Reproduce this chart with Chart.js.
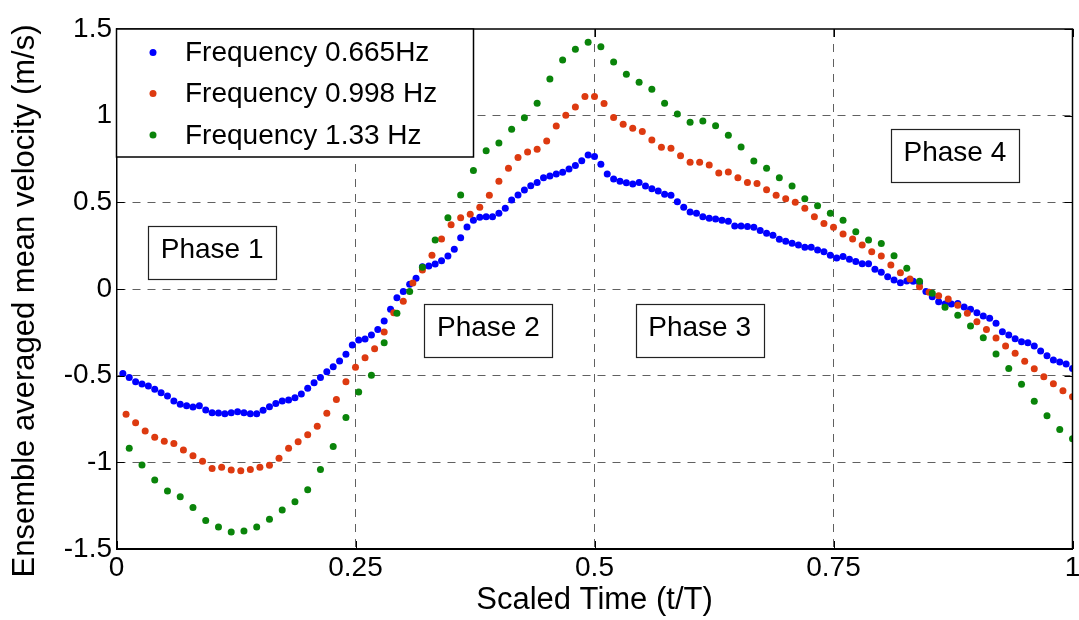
<!DOCTYPE html>
<html lang="en">
<head>
    <meta charset="UTF-8" />
    <title>Ensemble averaged mean velocity</title>
    <script src="https://cdn.jsdelivr.net/npm/chart.js@4.4.1/dist/chart.umd.min.js"></script>
    <style>
        html, body { margin: 0; padding: 0; background: #fff; }
        #wrap { width: 1079px; height: 620px; }
    </style>
</head>
<body>
    <div id="wrap"><canvas id="chart"></canvas></div>

    <script>
        // === Data (m/s), samples evenly spaced over one period ===
        const SERIES_NAMES = ["Frequency 0.665Hz", "Frequency 0.998 Hz", "Frequency 1.33 Hz"];

        const V_0665 = [
            -0.487, -0.511, -0.535, -0.548, -0.560, -0.579, -0.598, -0.617, -0.646, -0.665,
            -0.673, -0.681, -0.673, -0.698, -0.714, -0.716, -0.719, -0.714, -0.708, -0.714,
            -0.719, -0.719, -0.700, -0.679, -0.660, -0.646, -0.641, -0.627, -0.606, -0.573,
            -0.541, -0.510, -0.477, -0.448, -0.415, -0.377, -0.323, -0.294, -0.288, -0.265,
            -0.233, -0.185, -0.117, -0.050, -0.015, 0.027, 0.062, 0.129, 0.133, 0.144,
            0.163, 0.190, 0.229, 0.296, 0.358, 0.396, 0.414, 0.417, 0.417, 0.437,
            0.466, 0.514, 0.542, 0.571, 0.596, 0.615, 0.642, 0.652, 0.664, 0.673,
            0.692, 0.712, 0.740, 0.773, 0.765, 0.719, 0.663, 0.635, 0.622, 0.613,
            0.606, 0.615, 0.594, 0.579, 0.565, 0.546, 0.541, 0.504, 0.471, 0.444,
            0.437, 0.417, 0.408, 0.404, 0.396, 0.391, 0.364, 0.364, 0.360, 0.356,
            0.337, 0.321, 0.310, 0.287, 0.275, 0.264, 0.254, 0.241, 0.241, 0.225,
            0.215, 0.194, 0.179, 0.188, 0.171, 0.159, 0.145, 0.146, 0.114, 0.097,
            0.071, 0.052, 0.036, 0.046, 0.044, 0.036, -0.015, -0.044, -0.073, -0.087,
            -0.087, -0.083, -0.104, -0.117, -0.137, -0.156, -0.169, -0.198, -0.246, -0.265,
            -0.287, -0.304, -0.310, -0.329, -0.358, -0.385, -0.410, -0.421, -0.433, -0.458
        ];

        const V_0998 = [
            -0.723, -0.771, -0.819, -0.856, -0.879, -0.891, -0.929, -0.962, -0.994, -1.035,
            -1.029, -1.044, -1.048, -1.042, -1.029, -1.017, -0.977, -0.919, -0.881, -0.841,
            -0.792, -0.717, -0.637, -0.535, -0.452, -0.396, -0.344, -0.248, -0.137, -0.071,
            0.035, 0.110, 0.194, 0.289, 0.371, 0.411, 0.431, 0.471, 0.541, 0.621,
            0.696, 0.758, 0.791, 0.806, 0.854, 0.941, 1.002, 1.050, 1.110, 1.110,
            1.070, 0.990, 0.950, 0.927, 0.908, 0.860, 0.818, 0.812, 0.769, 0.731,
            0.731, 0.716, 0.669, 0.675, 0.642, 0.615, 0.608, 0.573, 0.541, 0.521,
            0.500, 0.466, 0.417, 0.378, 0.356, 0.317, 0.289, 0.254, 0.215, 0.191,
            0.138, 0.094, 0.058, 0.013, -0.019, -0.039, -0.058, -0.094, -0.140, -0.189,
            -0.233, -0.283, -0.329, -0.371, -0.417, -0.460, -0.506, -0.546, -0.587, -0.621
        ];

        const V_133 = [
            -0.919, -1.016, -1.102, -1.166, -1.198, -1.260, -1.335, -1.373, -1.402, -1.396,
            -1.373, -1.329, -1.275, -1.227, -1.158, -1.041, -0.908, -0.742, -0.594, -0.498,
            -0.310, -0.140, -0.015, 0.125, 0.283, 0.411, 0.542, 0.683, 0.798, 0.842,
            0.921, 0.988, 1.071, 1.212, 1.321, 1.383, 1.423, 1.398, 1.309, 1.239,
            1.193, 1.152, 1.071, 1.010, 0.962, 0.969, 0.942, 0.887, 0.819, 0.739,
            0.696, 0.642, 0.594, 0.521, 0.481, 0.437, 0.397, 0.330, 0.282, 0.262,
            0.192, 0.119, 0.044, -0.025, -0.106, -0.152, -0.213, -0.281, -0.375, -0.458,
            -0.550, -0.648, -0.731, -0.810, -0.864
        ];

        const X_TICKS = [0, 0.25, 0.5, 0.75, 1];
        const X_TICK_LABELS = ["0", "0.25", "0.5", "0.75", "1"];
        const Y_TICKS = [-1.5, -1, -0.5, 0, 0.5, 1, 1.5];
        const Y_TICK_LABELS = ["-1.5", "-1", "-0.5", "0", "0.5", "1", "1.5"];
        const Y_TITLE = "Ensemble averaged mean velocity (m/s)";

        // phase boxes, centre in data coordinates
        const PHASE_LABELS = ["Phase 1", "Phase 2", "Phase 3", "Phase 4"];
        const PHASE_X = [0.100, 0.389, 0.610, 0.877];
        const PHASE_Y = [0.208, -0.239, -0.239, 0.770];

        // === Styling ===
        const FONT = "'Liberation Sans', Arial, Helvetica, sans-serif";
        const COLORS = ["#0000ff", "#dd3a10", "#0a840a"];
        const GRID = "#606060";

        // samples sit at the end of each of N equal steps (first one just after t/T = 0)
        const toPoints = (vals) => vals.map((v, i) => ({ x: (i + 1) / vals.length, y: v }));

        const edgeTransparent = (ticks) => (ctx) => {
            const v = ctx.tick ? ctx.tick.value : null;
            return v === ticks[0] || v === ticks[ticks.length - 1] ? "rgba(0,0,0,0)" : GRID;
        };

        // === Legend, phase boxes, y title, top/right frame and inward tick marks ===
        const framePlugin = {
            id: "frame",
            afterDatasetsDraw(chart) {
                const { ctx, chartArea: a, scales } = chart;
                ctx.save();
                ctx.strokeStyle = "#000";
                ctx.lineWidth = 1.5;
                ctx.beginPath();
                ctx.moveTo(a.left, a.top);
                ctx.lineTo(a.right, a.top);
                ctx.lineTo(a.right, a.bottom);
                ctx.stroke();

                ctx.lineWidth = 1;
                const TL = 8;
                ctx.beginPath();
                X_TICKS.forEach((v) => {
                    const px = Math.round(scales.x.getPixelForValue(v)) + 0.5;
                    ctx.moveTo(px, a.bottom); ctx.lineTo(px, a.bottom - TL);
                    ctx.moveTo(px, a.top); ctx.lineTo(px, a.top + TL);
                });
                Y_TICKS.forEach((v) => {
                    const py = Math.round(scales.y.getPixelForValue(v)) + 0.5;
                    ctx.moveTo(a.left, py); ctx.lineTo(a.left + TL, py);
                    ctx.moveTo(a.right, py); ctx.lineTo(a.right - TL, py);
                });
                ctx.stroke();
                ctx.restore();
            },
            afterDraw(chart) {
                const { ctx, chartArea: a, scales } = chart;
                ctx.save();

                // y axis title (sits a little below the axis centre in the figure)
                ctx.save();
                ctx.translate(25, (a.top + a.bottom) / 2 + 12);
                ctx.rotate(-Math.PI / 2);
                ctx.font = `31px ${FONT}`;
                ctx.fillStyle = "#000";
                ctx.textAlign = "center";
                ctx.textBaseline = "middle";
                ctx.fillText(Y_TITLE, 0, 0);
                ctx.restore();

                // phase boxes
                const BW = 128, BH = 53;
                ctx.font = `28px ${FONT}`;
                ctx.textAlign = "center";
                ctx.textBaseline = "alphabetic";
                PHASE_LABELS.forEach((label, i) => {
                    const cx = scales.x.getPixelForValue(PHASE_X[i]);
                    const cy = scales.y.getPixelForValue(PHASE_Y[i]);
                    const x0 = Math.round(cx - BW / 2) + 0.5;
                    const y0 = Math.round(cy - BH / 2) + 0.5;
                    ctx.fillStyle = "#fff";
                    ctx.fillRect(x0, y0, BW, BH);
                    ctx.strokeStyle = "#222";
                    ctx.lineWidth = 1.2;
                    ctx.strokeRect(x0, y0, BW, BH);
                    ctx.fillStyle = "#000";
                    ctx.fillText(label, cx, y0 + 31);
                });

                // legend box, top-left corner of the axes
                const LW = 357, LH = 128;
                ctx.fillStyle = "#fff";
                ctx.fillRect(a.left, a.top, LW, LH);
                ctx.strokeStyle = "#000";
                ctx.lineWidth = 1.5;
                ctx.strokeRect(a.left, a.top, LW, LH);
                const rows = [23.5, 64.5, 106];
                ctx.textAlign = "left";
                ctx.textBaseline = "middle";
                chart.data.datasets.forEach((ds, i) => {
                    const y = a.top + rows[i];
                    ctx.fillStyle = ds.backgroundColor;
                    ctx.beginPath();
                    ctx.arc(a.left + 36.5, y, 3.5, 0, Math.PI * 2);
                    ctx.fill();
                    ctx.fillStyle = "#000";
                    ctx.fillText(ds.label, a.left + 68.5, y + 1);
                });
                ctx.restore();
            }
        };

        const seriesValues = [V_0665, V_0998, V_133];
        const datasets = seriesValues.map((vals, i) => ({
            label: SERIES_NAMES[i],
            data: toPoints(vals),
            backgroundColor: COLORS[i],
            borderWidth: 0,
            pointRadius: 3.5,
            pointHoverRadius: 3.5,
            showLine: false,
            order: 3 - i // later series drawn on top, as in the figure
        }));

        new Chart(document.getElementById("chart"), {
            type: "scatter",
            data: { datasets },
            options: {
                responsive: true,
                maintainAspectRatio: false,
                animation: false,
                events: [],
                layout: { padding: { top: 29, right: 6.5, left: 0, bottom: 0 } },
                plugins: { legend: { display: false }, tooltip: { enabled: false } },
                scales: {
                    x: {
                        type: "linear",
                        min: 0,
                        max: 1,
                        afterBuildTicks: (s) => { s.ticks = X_TICKS.map((v) => ({ value: v })); },
                        afterFit: (s) => { s.height = 71; s.paddingLeft = 0; s.paddingRight = 0; },
                        ticks: {
                            autoSkip: false,
                            maxRotation: 0,
                            padding: 2,
                            color: "#000",
                            font: { family: FONT, size: 28 },
                            callback: (v, i) => X_TICK_LABELS[i]
                        },
                        grid: { color: edgeTransparent(X_TICKS), lineWidth: 1, drawTicks: false },
                        border: { color: "#000", width: 2, dash: [8, 7] },
                        title: {
                            display: true,
                            text: "Scaled Time (t/T)",
                            color: "#000",
                            font: { family: FONT, size: 31 },
                            padding: { top: 0, bottom: 1 }
                        }
                    },
                    y: {
                        type: "linear",
                        min: -1.5,
                        max: 1.5,
                        afterBuildTicks: (s) => { s.ticks = Y_TICKS.map((v) => ({ value: v })); },
                        afterFit: (s) => { s.width = 116.5; s.paddingTop = 0; s.paddingBottom = 0; },
                        ticks: {
                            autoSkip: false,
                            padding: 4.5,
                            color: "#000",
                            font: { family: FONT, size: 28 },
                            callback: (v, i) => Y_TICK_LABELS[i]
                        },
                        grid: { color: edgeTransparent(Y_TICKS), lineWidth: 1, drawTicks: false },
                        border: { color: "#000", width: 1.5, dash: [8, 7] },
                        title: { display: false }
                    }
                }
            },
            plugins: [framePlugin]
        });
    </script>
</body>
</html>
